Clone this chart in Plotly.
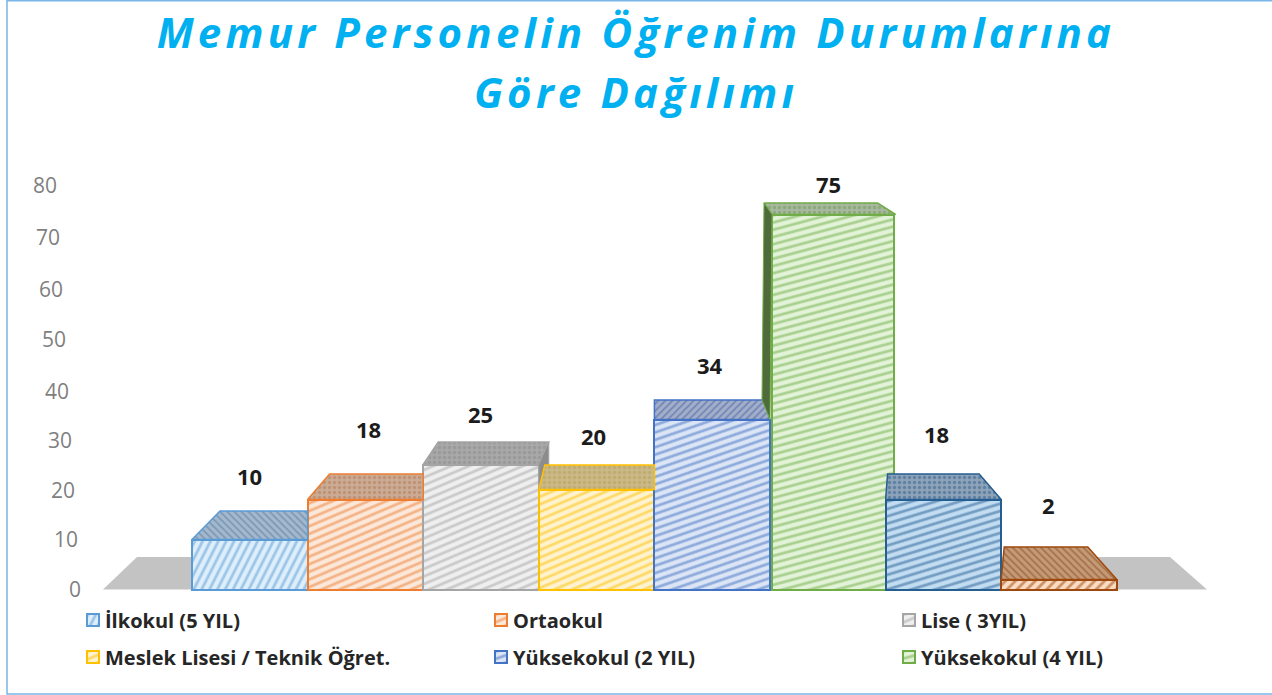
import json
import plotly.graph_objects as go

# ---- data ----
title_text = "Memur Personelin Öğrenim Durumlarına<br>Göre Dağılımı"
series_names = ["İlkokul (5 YIL)", "Ortaokul", "Lise ( 3YIL)",
                "Meslek Lisesi / Teknik Öğret.", "Yüksekokul (2 YIL)", "Yüksekokul (4 YIL)",
                "Diğer A", "Diğer B"]
values = [10, 18, 25, 20, 34, 75, 18, 2]
tick_values = [0, 10, 20, 30, 40, 50, 60, 70, 80]

# ---- styles ----
edge = ["#5b9bd5", "#ed7d31", "#a5a5a5", "#ffc000", "#4472c4", "#70ad47", "#255e91", "#9e480e"]
back = ["#deeffb", "#fbe8da", "#efefef", "#fff3cf", "#dbe5f5", "#e3f3d8", "#c2dcf2", "#fbdcc2"]
top_bg = ["#a5b8cc", "#c9ab96", "#a8a8a8", "#c9b888", "#a4aec8", "#a8b8a0", "#8fa3b8", "#c49a78"]
top_fg = ["#4f7ba3", "#b87a50", "#8a8a8a", "#b8a050", "#3f62a8", "#6f9a50", "#2f5f90", "#8a4a18"]
top_shape = ["\\", ".", ".", ".", "/", ".", ".", "\\"]
rotate = {"#5b9bd5": -18, "#ed7d31": 22, "#a5a5a5": 22, "#ffc000": 22, "#4472c4": 26,
          "#70ad47": 30, "#255e91": 28, "#9e480e": 0}
tick_nudge = {"20": 1.5, "30": 1.5, "40": 2.5, "70": -1.5, "80": -3.5}
# 3-D face offsets in px: depth upward, inset of the back edge left and right
depth = [28.5, 25.5, 22.5, 24.5, 19.5, 11.5, 25.5, 32.5]
inset_l = [28, 22, 15, 6, 0, -8, 2, 3]
inset_r = [0, 0, -10, 0, 6, 18, 22, 29]
label_gap = [64, 71, 51, 54, 55, 31, 66, 75]
label_dx = [0, 3, -1, -3, -2, 1, -7, -11]
legend_px = [(65, 620), (473, 620), (881, 620), (65, 657), (473, 657), (881, 657)]
legend_ids = ["legend", "legend2", "legend3", "legend4", "legend5", "legend6"]

W, H = 1272, 695
ML = 62
PX_X, PX_Y = 115.6, 5.0       # px per data unit
X0_PX = 192 + PX_X / 2        # px of first bar centre
Y0_PX = 589.5                 # px of value 0
dx = lambda px: px / PX_X
dy = lambda px: px / PX_Y
to_x = lambda px: (px - X0_PX) / PX_X
to_y = lambda px: (Y0_PX - px) / PX_Y

fig = go.Figure()

# fronts
for i, v in enumerate(values):
    is_tall = v == max(values)
    fig.add_bar(
        x=[i], y=[v], name=series_names[i],
        width=[1.055 if is_tall else 1.0],
        offset=[-0.485 if is_tall else -0.5],
        marker=dict(color=back[i], line=dict(color=edge[i], width=2),
                    pattern=dict(shape="/", fgcolor=edge[i], bgcolor=back[i], size=7, solidity=0.4)),
        showlegend=i < 6,
        legend=legend_ids[i] if i < 6 else "legend",
        hoverinfo="skip",
    )

# top faces and the visible side faces, computed from the values
for i, v in enumerate(values):
    xl, xr = i - 0.5, i + 0.5
    if v == max(values):
        xl, xr = xl + dx(2), xr + dx(10)
    d = dy(depth[i])
    fig.add_scatter(
        x=[xl, xr, xr - dx(inset_r[i]), xl + dx(inset_l[i]), xl],
        y=[v, v, v + d, v + d, v],
        mode="lines", line=dict(color=edge[i], width=1.5), fill="toself", fillcolor=top_bg[i],
        fillpattern=dict(shape=top_shape[i], fgcolor=top_fg[i], bgcolor=top_bg[i], size=5, solidity=0.35),
        showlegend=False, hoverinfo="skip",
    )
    nxt = values[i + 1] if i + 1 < len(values) else 0
    prv = values[i - 1] if i > 0 else 0
    if inset_r[i] < 0 and nxt < v:      # right side face shows
        fig.add_scatter(
            x=[xr, xr - dx(inset_r[i]), xr - dx(inset_r[i]), xr, xr],
            y=[v, v + d, nxt + dy(depth[i + 1]), nxt, v],
            mode="lines", line=dict(color=edge[i], width=1), fill="toself", fillcolor="#8c8c8c",
            showlegend=False, hoverinfo="skip",
        )
    if inset_l[i] < 0 and prv < v:      # left side face shows
        fig.add_scatter(
            x=[xl, xl + dx(inset_l[i]), xl + dx(inset_l[i]) - dx(2), xl - dx(2), xl],
            y=[v, v + d, prv + dy(depth[i - 1]), prv, v],
            mode="lines", line=dict(color=edge[i], width=1), fill="toself", fillcolor="#4f6b3c",
            showlegend=False, hoverinfo="skip",
        )

annotations = [
    dict(x=i, y=v, xref="x", yref="y", text=f"<b>{v}</b>", showarrow=False,
         yanchor="middle", xanchor="center", yshift=label_gap[i], xshift=label_dx[i],
         font=dict(family="Open Sans", size=22, color="#1c1c1c"))
    for i, v in enumerate(values)
]

shapes = [
    dict(type="path", layer="below", xref="x", yref="y", fillcolor="#c3c3c3", line=dict(width=0),
         path=f"M{to_x(103)},{to_y(589.5)} L{to_x(137)},{to_y(557)} L{to_x(1170)},{to_y(557)} "
              f"L{to_x(1207)},{to_y(589.5)} Z"),
    dict(type="rect", xref="paper", yref="paper", layer="above", fillcolor="rgba(0,0,0,0)",
         line=dict(color="#7ab6e8", width=1.5),
         x0=(7 - ML) / (W - ML), x1=(1290 - ML) / (W - ML), y0=1 / H, y1=1 - 0.7 / H),
]

legends = {
    lid: dict(orientation="h", xanchor="left", yanchor="middle",
              x=(px - ML) / (W - ML), y=1 - py / H, bgcolor="rgba(0,0,0,0)",
              font=dict(family="Open Sans", size=20, color="#262626", weight=700))
    for lid, (px, py) in zip(legend_ids, legend_px)
}

fig.update_layout(
    width=W, height=H, autosize=False,
    margin=dict(l=ML, r=0, t=0, b=0),
    paper_bgcolor="white", plot_bgcolor="rgba(0,0,0,0)",
    barmode="overlay",
    bargap=0,
    title=dict(text=title_text, x=0.5, xanchor="center", xref="container", y=1 - 48 / H, yanchor="top",
               font=dict(family="Open Sans", size=42, color="#00b0f0", style="italic", weight=700)),
    xaxis=dict(range=[to_x(ML), to_x(W)], visible=False, fixedrange=True),
    yaxis=dict(range=[to_y(H), to_y(0)], tickmode="array", tickvals=tick_values,
               showgrid=False, zeroline=False, showline=False, ticks="", fixedrange=True,
               tickfont=dict(family="Open Sans", size=21, color="#7f7f7f"), ticklabelstandoff=4),
    annotations=annotations,
    shapes=shapes,
    **legends,
)

post = """
document.documentElement.style.overflow='hidden';
document.body.style.margin='0';
var rot=%s, nudge=%s;
function tune(){
  document.querySelectorAll('.gtitle').forEach(function(t){
    t.style.letterSpacing='4.2px';
    t.querySelectorAll('tspan.line').forEach(function(l,i){ if(i>0) l.setAttribute('dy','60px'); });
  });
  document.querySelectorAll('.ytick text').forEach(function(t){
    var v=parseFloat(t.textContent);
    if(!t.dataset.s){
      t.dataset.s=1;
      t.setAttribute('x', parseFloat(t.getAttribute('x'))+(80-v)*0.3);
      if(nudge[t.textContent]) t.setAttribute('y', parseFloat(t.getAttribute('y'))+nudge[t.textContent]);
    }
  });
  document.querySelectorAll('.legendsymbols').forEach(function(s){ s.setAttribute('transform','translate(8,0)'); });
  document.querySelectorAll('pattern').forEach(function(p){
    var q=p.querySelector('path');
    if(!q) return;
    var d=q.getAttribute('d')||'';
    var c=(q.getAttribute('stroke')||q.style.stroke||'');
    var m=c.match(/(\\d+),\\s*(\\d+),\\s*(\\d+)/);
    if(m){ c='#'+[m[1],m[2],m[3]].map(function(n){return ('0'+parseInt(n).toString(16)).slice(-2);}).join(''); }
    if(d.indexOf('M-')===0 && rot[c]!==undefined){ p.setAttribute('patternTransform','rotate('+rot[c]+')'); }
  });
}
tune();
""" % (json.dumps(rotate), json.dumps(tick_nudge))

fig.write_html("out.html", post_script=post, config={"displayModeBar": False})
